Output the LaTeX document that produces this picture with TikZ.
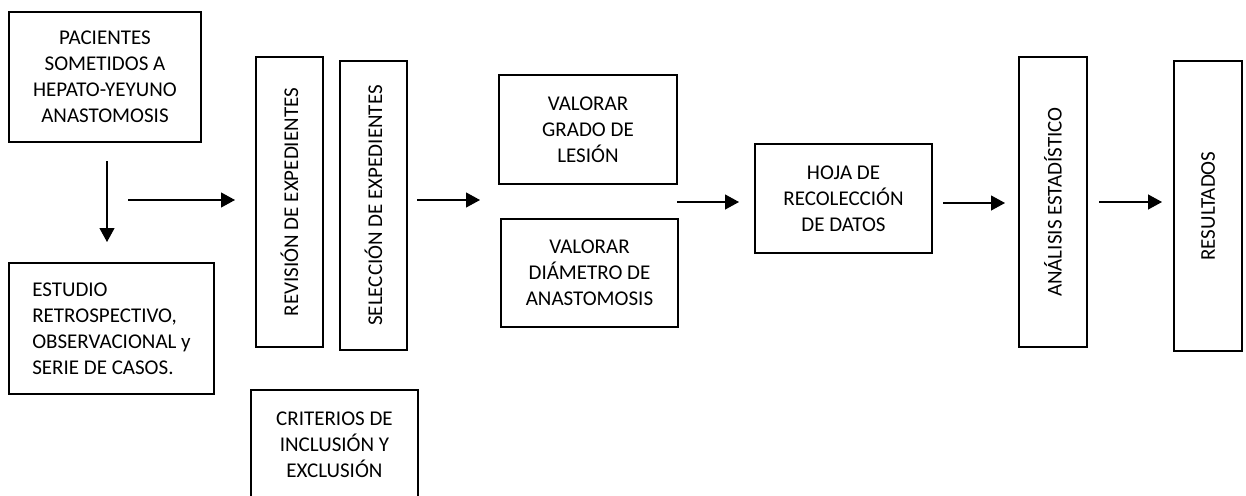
\documentclass[tikz,border=0pt]{standalone}
\usepackage{fontspec}
\setmainfont{Carlito}
\usetikzlibrary{arrows.meta}
\tikzset{
  box/.style={draw=black, line width=1.8pt, fill=white, inner sep=0pt, align=center,
              font=\fontsize{21}{26}\selectfont},
  arr/.style={line width=1.2pt, -{Triangle[length=14pt,width=15pt]}}
}
\begin{document}
\begin{tikzpicture}[x=1pt,y=-1pt]
\clip (0,0) rectangle (1246,495);
\fill[white] (0,0) rectangle (1246,495);
% nodes
\node[box, minimum width=192pt, minimum height=130pt] (pac) at (105,77)
  {PACIENTES\\SOMETIDOS A\\HEPATO-YEYUNO\\ANASTOMOSIS};
\node[box, minimum width=205pt, minimum height=131pt, align=left] (est) at (111.5,328.5)
  {ESTUDIO\\RETROSPECTIVO,\\OBSERVACIONAL y\\SERIE DE CASOS.};
\node[box, rotate=90, minimum width=290pt, minimum height=67pt] (rev) at (289.5,202)
  {REVISIÓN DE EXPEDIENTES};
\node[box, rotate=90, minimum width=289pt, minimum height=67pt] (sel) at (373.5,205.5)
  {SELECCIÓN DE EXPEDIENTES};
\node[box, minimum width=167pt, minimum height=110pt] (cri) at (334.5,445)
  {CRITERIOS DE\\INCLUSIÓN Y\\EXCLUSIÓN};
\node[box, minimum width=178pt, minimum height=109pt] (vg) at (588,129.5)
  {VALORAR\\GRADO DE\\LESIÓN};
\node[box, minimum width=177pt, minimum height=108pt] (vd) at (589.5,273)
  {VALORAR\\DIÁMETRO DE\\ANASTOMOSIS};
\node[box, minimum width=177pt, minimum height=109pt] (hoja) at (843.5,198.5)
  {HOJA DE\\RECOLECCIÓN\\DE DATOS};
\node[box, rotate=90, minimum width=290pt, minimum height=68pt] (ana) at (1053,202)
  {ANÁLISIS ESTADÍSTICO};
\node[box, rotate=90, minimum width=290pt, minimum height=68pt] (res) at (1208,206)
  {RESULTADOS};
% arrow end points
\coordinate (a1s) at (107,161);  \coordinate (a1e) at (107,242);
\coordinate (a2s) at (128,200);  \coordinate (a2e) at (235,200);
\coordinate (a3s) at (417,200);  \coordinate (a3e) at (480,200);
\coordinate (a4s) at (677,202);  \coordinate (a4e) at (739,202);
\coordinate (a5s) at (943,203);  \coordinate (a5e) at (1005,203);
\coordinate (a6s) at (1099,202); \coordinate (a6e) at (1162,202);
\draw[arr] (a1s) -- (a1e);
\draw[arr] (a2s) -- (a2e);
\draw[arr] (a3s) -- (a3e);
\draw[arr] (a4s) -- (a4e);
\draw[arr] (a5s) -- (a5e);
\draw[arr] (a6s) -- (a6e);
\end{tikzpicture}
\end{document}
